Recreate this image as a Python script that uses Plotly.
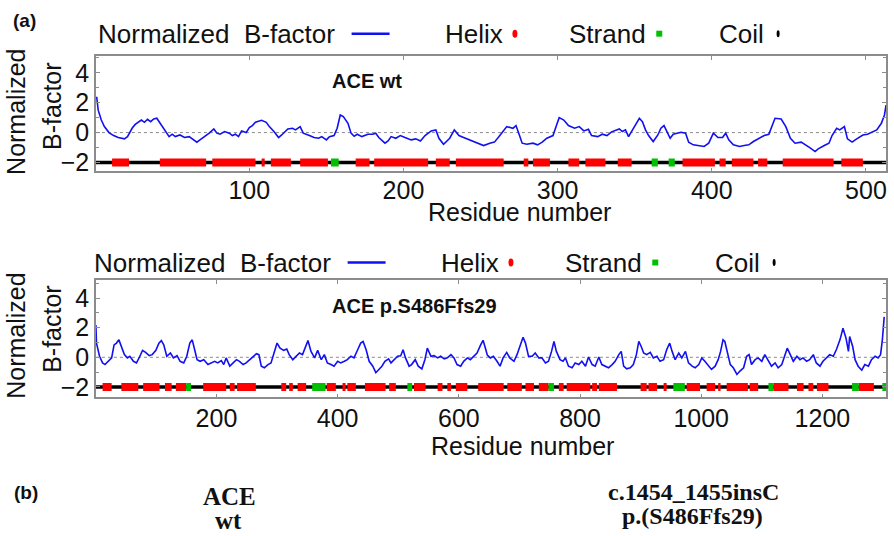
import plotly.graph_objects as go

# ---------------- data ----------------
wt_res = [1, 2, 4, 6, 9, 12, 15, 19, 21, 24, 26, 30, 32, 34, 36, 38, 40, 43, 46, 48, 50, 52, 55, 58, 61, 63, 66, 68, 71, 74,
          77, 79, 81, 84, 87, 89, 91, 93, 95, 98, 100, 102, 104, 106, 108, 111, 113, 116, 119, 121, 125, 128, 130, 133, 135,
          139, 142, 145, 147, 150, 152, 155, 157, 159, 161, 164, 166, 168, 170, 173, 177, 180, 182, 184, 188, 190, 192, 195,
          198, 201, 205, 208, 211, 214, 218, 221, 223, 226, 230, 233, 236, 239, 243, 246, 249, 252, 256, 259, 262, 265, 267,
          271, 273, 275, 277, 280, 284, 287, 290, 293, 297, 299, 301, 304, 307, 311, 314, 317, 320, 322, 326, 329, 332, 335,
          337, 340, 342, 344, 346, 348, 351, 353, 355, 357, 359, 362, 365, 367, 369, 371, 373, 375, 378, 380, 383, 385, 388,
          392, 395, 398, 401, 404, 407, 409, 411, 414, 418, 421, 424, 427, 431, 434, 437, 439, 441, 445, 448, 451, 454, 458,
          461, 464, 467, 469, 473, 476, 478, 481, 483, 486, 488, 491, 494, 498, 501, 504, 507, 510, 512, 513]
wt_bf = [2.4, 1.5, 0.84, 0.4, 0.0, -0.2, -0.33, -0.42, -0.27, 0.29, 0.55, 0.84, 0.69, 0.89, 0.73, 0.91, 0.96, 0.51, 0.07,
         -0.27, -0.11, -0.27, -0.16, -0.33, -0.27, -0.42, -0.64, -0.49, -0.27, -0.04, 0.24, -0.04, -0.11, 0.07, -0.04, -0.2,
         -0.11, -0.27, 0.11, 0.0, 0.33, 0.47, 0.69, 0.78, 0.82, 0.69, 0.4, 0.07, -0.33, -0.16, 0.24, 0.29, 0.18, 0.4, -0.04,
         -0.2, -0.33, -0.38, -0.27, -0.49, -0.27, -0.2, 0.29, 1.18, 1.07, 0.62, -0.04, -0.25, -0.11, -0.27, -0.11, -0.11,
         -0.04, -0.33, -0.71, -0.56, -0.27, -0.38, -0.2, -0.33, -0.49, -0.42, -0.56, -0.2, 0.11, 0.18, -0.38, -0.78, -0.38,
         0.18, -0.2, -0.33, -0.49, -0.6, -0.71, -0.87, -0.71, -0.64, -0.27, 0.18, 0.4, 0.29, 0.47, -0.11, -0.71, -0.78,
         -0.71, -0.82, -0.64, -0.38, -0.2, 0.4, 1.0, 0.84, 0.47, 0.29, 0.4, 0.11, 0.22, -0.2, -0.27, -0.11, -0.2, 0.05,
         0.11, 0.24, 0.07, 0.18, -0.27, 0.11, 0.62, 0.96, 0.73, 0.18, -0.2, -0.6, -0.16, 0.29, 0.47, 0.02, -0.38, -0.11,
         -0.04, 0.02, -0.04, -0.64, -0.82, -0.87, -0.93, -0.71, -0.04, -0.33, -0.33, -0.04, -0.49, -0.82, -0.93, -0.87,
         -0.82, -0.6, -0.38, -0.2, -0.11, 0.4, 0.96, 0.91, 0.4, -0.38, -0.71, -0.64, -0.82, -1.04, -1.27, -1.09, -0.87,
         -0.71, -0.2, 0.29, 0.18, 0.4, -0.42, -0.64, -0.42, -0.16, -0.11, 0.02, 0.18, 0.62, 1.18, 1.84]

wt_helix_start = [11, 42, 76, 108, 114, 133, 169, 181, 221, 234, 278, 284, 307, 318, 339, 381, 405, 413, 430, 446, 484]
wt_helix_end = [22, 72, 104, 110, 127, 151, 178, 216, 230, 265, 281, 295, 314, 331, 348, 402, 409, 427, 436, 479, 498]
wt_strand_start = [153, 361, 372]
wt_strand_end = [158, 365, 376]
wt_length = 513

mut_res = [1, 2, 7, 12, 16, 21, 27, 31, 35, 39, 43, 48, 53, 57, 63, 68, 73, 78, 83, 89, 94, 100, 105, 109, 113, 118, 124,
           129, 135, 140, 146, 151, 156, 160, 164, 168, 173, 179, 186, 191, 197, 202, 208, 212, 216, 222, 227, 233, 238,
           244, 249, 255, 260, 266, 270, 274, 279, 285, 290, 296, 300, 305, 311, 316, 320, 326, 331, 337, 342, 348, 351,
           356, 362, 367, 373, 378, 383, 389, 394, 400, 405, 411, 416, 422, 427, 433, 438, 442, 447, 452, 458, 463, 467,
           473, 478, 484, 488, 493, 499, 504, 508, 512, 518, 522, 528, 533, 539, 544, 548, 554, 559, 565, 570, 576, 581,
           587, 592, 597, 603, 608, 614, 619, 625, 630, 636, 640, 644, 647, 652, 657, 663, 668, 673, 679, 684, 691, 696,
           702, 706, 710, 715, 721, 726, 732, 737, 743, 748, 753, 757, 761, 767, 772, 776, 781, 787, 792, 798, 803, 809,
           814, 820, 825, 831, 836, 842, 847, 853, 858, 864, 868, 872, 877, 883, 888, 893, 897, 901, 905, 910, 916, 921,
           927, 932, 938, 943, 948, 952, 957, 963, 968, 974, 979, 985, 990, 996, 1001, 1006, 1012, 1017, 1023, 1028, 1032,
           1036, 1039, 1043, 1048, 1053, 1059, 1064, 1070, 1075, 1079, 1083, 1089, 1094, 1100, 1105, 1111, 1116, 1122,
           1127, 1133, 1138, 1142, 1147, 1152, 1158, 1163, 1168, 1174, 1179, 1185, 1190, 1196, 1201, 1207, 1212, 1218,
           1223, 1229, 1234, 1239, 1243, 1245, 1250, 1254, 1259, 1265, 1270, 1276, 1281, 1287, 1292, 1296, 1299, 1302]
mut_bf = [2.18, 0.96, 0.07, -0.38, -0.49, -0.27, -0.04, 0.84, 0.96, 1.18, 0.78, 0.18, -0.04, 0.07, -0.27, -0.38, 0.02,
          0.47, 0.33, 0.11, 0.18, 0.47, 0.96, 1.13, 0.84, 0.07, 0.29, -0.04, 0.11, -0.27, -0.38, 0.07, 0.96, 1.18, 0.51,
          -0.16, -0.27, -0.16, -0.49, -0.38, -0.27, -0.38, -0.22, -0.49, -0.04, -0.6, -0.38, -0.16, -0.27, -0.49, -0.38,
          -0.16, -0.04, 0.24, 0.18, -0.6, -0.71, -0.49, -0.38, 0.4, 0.96, 0.62, 0.47, 0.56, 0.18, -0.16, 0.07, 0.29, 0.18,
          0.78, 1.13, 0.4, -0.04, 0.47, -0.16, 0.18, -0.38, -0.49, -0.6, -0.27, -0.38, -0.27, -0.16, 0.07, -0.04, 0.51,
          0.96, 1.07, 0.51, -0.27, -0.6, -1.04, -0.87, -0.6, -0.27, -0.11, -0.38, -0.16, 0.07, 0.11, 0.51, -0.04, -0.6,
          -0.49, -0.16, -0.6, -0.78, -0.16, 0.62, 0.07, 0.11, -0.04, 0.07, -0.11, -0.04, 0.18, -0.04, -0.49, -0.6, -0.27,
          -0.04, -0.16, 0.07, 0.29, 0.84, 1.15, 0.6, 0.15, -0.04, 0.07, -0.27, -0.6, -0.04, 0.33, -0.04, -0.27, 0.18, 0.84,
          1.36, 0.96, 0.07, 0.07, 0.29, -0.04, -0.04, -0.38, -0.27, 0.4, 1.07, 0.4, -0.16, -0.27, -0.04, -0.6, -0.71,
          -0.38, -0.49, -0.27, -0.6, 0.02, -0.49, -0.6, 0.02, -0.49, -0.6, -0.71, -0.49, -0.27, 0.18, 0.4, -0.6, -0.78,
          -0.71, -0.49, 0.18, 1.07, 0.73, 0.29, 0.18, 0.33, -0.04, 0.07, -0.27, -0.16, 0.51, 0.96, 0.4, -0.16, 0.29, -0.04,
          0.4, -0.38, -0.6, -0.71, -0.49, -0.04, -0.27, -0.6, -0.82, -0.6, -0.16, 0.4, 1.18, 1.07, 0.29, -0.49, -0.71,
          -1.16, -0.93, -0.71, 0.07, 0.18, -0.49, -0.16, -0.04, -0.27, 0.18, -0.27, -0.6, -0.38, -0.71, -0.49, 0.18, 0.62,
          0.18, -0.27, 0.07, -0.16, -0.04, -0.27, -0.16, 0.18, -0.38, -0.6, -0.27, -0.04, 0.18, 0.07, 0.51, 1.18, 1.96,
          1.29, 0.4, 1.4, 0.73, -0.16, -0.6, -0.87, -0.49, -0.6, -0.16, 0.07, -0.04, 0.18, 1.18, 2.73]

mut_helix_start = [12, 43, 79, 115, 133, 178, 222, 234, 307, 320, 334, 382, 408, 416, 445, 485, 526, 565, 581, 595, 632,
                   680, 710, 732, 765, 778, 820, 831, 900, 913, 938, 976, 1009, 1028, 1042, 1080, 1119, 1158, 1177, 1191,
                   1260]
mut_helix_end = [27, 71, 106, 126, 150, 216, 230, 265, 315, 326, 348, 397, 413, 430, 479, 496, 545, 573, 587, 614, 674,
                 704, 724, 748, 773, 817, 828, 861, 910, 927, 943, 998, 1023, 1032, 1077, 1094, 1144, 1169, 1185, 1210,
                 1285]
mut_strand_start = [150, 358, 515, 748, 954, 1111, 1249, 1299]
mut_strand_end = [158, 380, 523, 757, 973, 1119, 1260, 1305]
mut_length = 1305

x_ticks_wt = [100, 200, 300, 400, 500]
x_ticks_mut = [200, 400, 600, 800, 1000, 1200]
y_ticks = [-2, 0, 2, 4]
coil_level = -2

# ---------------- helpers ----------------
W, H = 894, 536


def px(x):
    return x / W


def py(y):
    return 1 - y / H


def segments(starts, ends):
    xs, ys = [], []
    for s, e in zip(starts, ends):
        xs += [s, e, None]
        ys += [coil_level, coil_level, None]
    return xs, ys


FONT = "Liberation Sans, Arial, sans-serif"
SERIF = "Liberation Serif, Times New Roman, serif"
BLUE = "#1010f0"

fig = go.Figure()

panels = [
    dict(res=wt_res, bf=wt_bf, hs=wt_helix_start, he=wt_helix_end, ss=wt_strand_start, se=wt_strand_end,
         length=wt_length, xa="x", ya="y", x0=0.5),
    dict(res=mut_res, bf=mut_bf, hs=mut_helix_start, he=mut_helix_end, ss=mut_strand_start, se=mut_strand_end,
         length=mut_length, xa="x2", ya="y2", x0=1),
]

for p in panels:
    # coil baseline
    fig.add_trace(go.Scatter(x=[p["x0"], p["length"]], y=[coil_level, coil_level], mode="lines",
                             line=dict(color="black", width=3.5), xaxis=p["xa"], yaxis=p["ya"], showlegend=False,
                             hoverinfo="skip"))
    hx, hy = segments(p["hs"], p["he"])
    fig.add_trace(go.Scatter(x=hx, y=hy, mode="lines", line=dict(color="#ff0000", width=8),
                             xaxis=p["xa"], yaxis=p["ya"], showlegend=False, name="Helix"))
    sx, sy = segments(p["ss"], p["se"])
    fig.add_trace(go.Scatter(x=sx, y=sy, mode="lines", line=dict(color="#00c000", width=8),
                             xaxis=p["xa"], yaxis=p["ya"], showlegend=False, name="Strand"))
    fig.add_trace(go.Scatter(x=p["res"], y=p["bf"], mode="lines", line=dict(color=BLUE, width=1.6),
                             xaxis=p["xa"], yaxis=p["ya"], showlegend=False, name="Normalized B-factor"))
    # dotted zero line
    fig.add_shape(type="line", xref=p["xa"], yref=p["ya"], x0=p["x0"], x1=p["length"], y0=0, y1=0,
                  line=dict(color="#8a8a8a", width=1, dash="dot"), layer="below")

axis_common = dict(showline=True, linecolor="#8c8c8c", linewidth=1.5, mirror="ticks", ticks="inside",
                   ticklen=4, tickcolor="#8c8c8c", showgrid=False, zeroline=False,
                   tickfont=dict(family=FONT, size=25, color="#111"))

fig.update_layout(
    width=W, height=H, margin=dict(l=0, r=0, t=0, b=0),
    paper_bgcolor="white", plot_bgcolor="white",
    xaxis=dict(domain=[px(96), px(887)], anchor="y", range=[0.5, wt_length], tickvals=x_ticks_wt,
               ticklabelstandoff=-4, **axis_common),
    yaxis=dict(domain=[py(173), py(57)], anchor="x", range=[-2.6, 5.1], tickvals=y_ticks,
               minor=dict(dtick=1, ticks="inside", ticklen=3, tickcolor="#8c8c8c"), **axis_common),
    xaxis2=dict(domain=[px(96), px(887)], anchor="y2", range=[1, mut_length], tickvals=x_ticks_mut,
                ticklabelstandoff=-2, **axis_common),
    yaxis2=dict(domain=[py(401), py(283)], anchor="x2", range=[-2.7, 5.2], tickvals=y_ticks,
                minor=dict(dtick=1, ticks="inside", ticklen=3, tickcolor="#8c8c8c"), **axis_common),
)

ann = []


def text(x, y, s, size=25, family=FONT, bold=False, angle=0, xanchor="center", color="#111"):
    ann.append(dict(x=px(x), y=py(y), xref="paper", yref="paper", text=(f"<b>{s}</b>" if bold else s),
                    showarrow=False, xanchor=xanchor, yanchor="middle", textangle=angle,
                    font=dict(family=family, size=size, color=color)))


# panel labels
text(25, 21, "(a)", size=19, bold=True)
text(26, 497, "(b)", size=19, bold=True)

for (ly, ylab_c1, ylab_c2, xl_y, xl_c, inner, inner_y, dx) in [
        (34, 113, 107, 214, 520, "ACE wt", 82, 0),
        (265, 339, 332, 450, 523, "ACE p.S486Ffs29", 309, -4)]:
    # legend row
    text(96 + dx, ly, "Normalized  B-factor", size=26, xanchor="left")
    fig.add_shape(type="line", xref="paper", yref="paper", x0=px(352 + dx), x1=px(390 + dx), y0=py(ly), y1=py(ly),
                  line=dict(color=BLUE, width=2.5))
    text(443 + dx, ly, "Helix", size=26, xanchor="left")
    fig.add_shape(type="circle", xref="paper", yref="paper", x0=px(513 + dx), x1=px(518 + dx),
                  y0=py(ly + 4), y1=py(ly - 4), fillcolor="#ff0000", line=dict(width=0))
    text(568 + dx, ly, "Strand", size=26, xanchor="left")
    fig.add_shape(type="rect", xref="paper", yref="paper", x0=px(657 + dx), x1=px(663 + dx),
                  y0=py(ly + 3), y1=py(ly - 3), fillcolor="#00c000", line=dict(width=0))
    text(718 + dx, ly, "Coil", size=26, xanchor="left")
    fig.add_shape(type="circle", xref="paper", yref="paper", x0=px(777.5 + dx), x1=px(780.5 + dx),
                  y0=py(ly + 3.5), y1=py(ly - 3.5), fillcolor="black", line=dict(width=0))
    # y-axis titles
    text(16, ylab_c1, "Normalized", angle=-90)
    text(52, ylab_c2, "B-factor", angle=-90)
    # x-axis title
    text(xl_c, xl_y, "Residue number")
    # inner label
    text(330, inner_y, inner, size=20, bold=True, xanchor="left")

# part (b) captions
text(230, 501, "ACE", size=25, family=SERIF, bold=True)
text(229, 525, "wt", size=25, family=SERIF, bold=True)
text(694, 497, "c.1454_1455insC", size=24, family=SERIF, bold=True)
text(693, 521, "p.(S486Ffs29)", size=24, family=SERIF, bold=True)

fig.update_layout(annotations=ann)
fig.write_html("out.html", config={"displayModeBar": False},
               post_script="document.body.style.margin='0px';document.body.style.overflow='hidden';")
